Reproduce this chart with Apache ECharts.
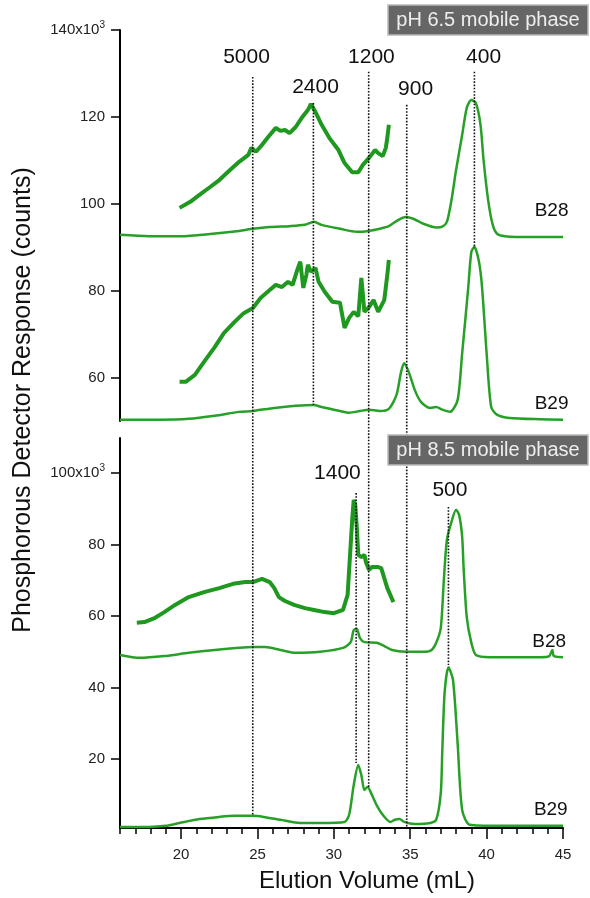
<!DOCTYPE html>
<html><head><meta charset="utf-8">
<script src="https://cdn.jsdelivr.net/npm/echarts@6/dist/echarts.min.js"></script>
<style>html,body{margin:0;padding:0;background:#fff}#c{width:590px;height:898px}</style>
</head><body><div id="c"></div>
<script>
// ---------- data ----------
const xMajorTicks = [20, 25, 30, 35, 40, 45];
const xMinorTicks = [16,17,18,19,20,21,22,23,24,25,26,27,28,29,30,31,32,33,34,35,36,37,38,39,40,41,42,43,44,45];
const topYTicks = [60, 80, 100, 120, 140];
const botYTicks = [20, 40, 60, 80, 100];

// pH 6.5 panel (x: elution volume mL, y: counts x1000)
const ph65_B28 = [[16.0,92.9],[17.9,92.6],[20.0,92.6],[21.9,93.1],[23.8,93.8],[24.7,94.3],[25.8,94.7],[27.1,94.9],[28.1,95.2],[28.7,95.9],[29.2,95.2],[30.4,94.3],[31.5,93.6],[32.3,93.8],[33.0,94.3],[33.6,94.9],[34.2,96.3],[34.7,97.0],[35.2,96.6],[35.9,95.4],[36.7,94.6],[37.1,94.8],[37.4,95.9],[37.7,100.9],[38.0,107.8],[38.4,115.9],[38.7,122.1],[39.0,123.9],[39.3,123.2],[39.6,118.2],[39.8,110.1],[40.1,100.9],[40.4,95.2],[40.7,93.1],[41.2,92.6],[42.8,92.4],[45.0,92.4]];
const ph65_B28_zoom = [[19.9,99.1],[20.6,100.5],[21.2,102.1],[21.9,103.9],[22.5,105.5],[23.2,107.8],[23.8,109.7],[24.4,111.3],[24.6,112.9],[24.9,112.0],[25.3,113.6],[25.7,115.4],[26.2,117.5],[26.5,116.8],[26.8,117.0],[27.1,116.3],[27.5,117.7],[27.9,119.8],[28.3,121.6],[28.5,123.0],[28.8,121.1],[29.2,118.2],[29.7,115.2],[30.3,112.4],[30.7,109.4],[31.2,107.3],[31.6,107.3],[31.9,109.0],[32.3,110.6],[32.7,112.4],[32.9,111.7],[33.2,111.0],[33.4,112.9],[33.5,115.2],[33.6,118.2]];
const ph65_B29 = [[16.0,50.4],[18.6,50.4],[20.5,50.6],[22.2,51.3],[23.8,52.2],[24.7,52.4],[26.1,53.1],[27.5,53.6],[28.7,53.8],[29.2,53.3],[30.4,52.4],[31.0,52.0],[31.7,52.4],[32.3,52.7],[33.0,52.4],[33.6,52.9],[34.1,56.1],[34.4,61.4],[34.6,63.4],[34.9,61.4],[35.3,57.2],[35.7,54.5],[36.3,53.1],[36.7,53.3],[37.1,52.7],[37.6,52.2],[38.1,54.9],[38.4,65.7],[38.8,80.9],[39.0,89.0],[39.2,90.1],[39.5,86.7],[39.7,80.9],[40.0,65.7],[40.3,53.3],[40.7,51.5],[41.5,50.8],[43.5,50.5],[45.0,50.4]];
const ph65_B29_zoom = [[19.9,59.1],[20.3,59.1],[20.9,60.7],[21.5,63.7],[22.2,67.1],[22.8,70.3],[23.5,72.9],[24.1,74.9],[24.7,76.1],[25.2,78.4],[25.8,80.2],[26.2,81.4],[26.6,80.9],[27.0,82.1],[27.3,81.4],[27.6,84.8],[27.8,86.7],[28.0,80.7],[28.2,83.7],[28.3,86.0],[28.5,84.4],[28.8,85.3],[29.0,82.1],[29.4,79.8],[29.9,77.5],[30.4,77.3],[30.7,71.5],[31.0,73.8],[31.3,75.2],[31.6,74.2],[31.8,83.0],[32.0,75.2],[32.3,76.3],[32.6,77.9],[32.9,75.2],[33.3,77.9],[33.5,83.7],[33.6,87.1]];

// pH 8.5 panel
const ph85_B28 = [[16.0,49.1],[17.3,48.3],[18.9,48.8],[20.5,49.7],[22.2,50.5],[23.8,51.1],[24.7,51.3],[25.5,51.3],[26.5,50.5],[27.5,49.7],[29.1,50.0],[30.6,51.1],[31.1,52.7],[31.3,56.1],[31.5,56.4],[31.7,53.9],[32.0,52.7],[32.8,52.5],[33.3,51.6],[33.8,50.5],[34.7,50.0],[35.9,50.0],[36.4,50.5],[36.7,52.5],[37.0,56.7],[37.2,70.1],[37.4,81.3],[37.7,86.3],[38.0,89.7],[38.2,88.3],[38.4,82.1],[38.5,72.9],[38.7,59.7],[39.0,52.5],[39.3,49.1],[40.2,48.5],[43.5,48.5],[44.1,48.8],[44.3,50.5],[44.4,48.8],[45.0,48.5]];
const ph85_B28_zoom = [[17.1,58.1],[17.6,58.3],[18.3,59.5],[18.9,61.1],[19.6,63.1],[20.5,65.3],[21.5,66.7],[22.5,67.8],[23.4,69.0],[24.2,69.5],[24.7,69.5],[25.3,70.4],[25.8,69.5],[26.1,67.8],[26.4,65.3],[26.8,64.2],[27.4,63.1],[28.1,62.2],[28.7,61.7],[29.4,61.1],[30.0,60.8],[30.6,61.7],[30.9,65.9],[31.0,72.9],[31.2,86.9],[31.3,92.5],[31.4,91.1],[31.5,84.9],[31.6,77.1],[31.8,76.5],[32.0,77.1],[32.1,75.1],[32.3,72.9],[32.5,73.7],[32.9,73.7],[33.1,73.4],[33.3,70.6],[33.5,67.8],[33.9,63.9]];
const ph85_B29 = [[16.0,1.0],[17.9,1.0],[19.0,1.3],[19.9,2.1],[21.2,3.2],[22.5,3.8],[23.5,4.1],[24.7,4.1],[25.4,3.8],[26.5,3.0],[27.8,2.1],[29.1,2.1],[30.7,2.4],[31.0,4.4],[31.3,12.7],[31.6,18.3],[31.8,15.5],[32.0,11.3],[32.2,12.2],[32.5,9.9],[32.8,7.1],[33.2,4.4],[33.7,2.4],[34.0,3.0],[34.3,3.2],[34.6,2.4],[35.3,1.8],[36.3,2.1],[36.7,3.0],[37.0,10.5],[37.1,22.5],[37.25,38.5],[37.5,45.7],[37.8,42.1],[38.1,24.5],[38.4,5.7],[38.9,1.6],[40.8,1.3],[45.0,1.3]];

// molecular-weight markers (dotted lines): x position, start (panel,value), end (panel,value)
const markerNames = ['5000', '2400', '1200', '900', '400', '1400', '500'];
const markerX = [24.69, 28.66, 32.28, 34.77, 39.2, 31.46, 37.5];
const markerStartPanel = [0, 0, 0, 0, 0, 1, 1];
const markerStartValue = [129.2, 123.2, 130.4, 122.8, 130.4, 94.4, 90.5];
const markerEndPanel = [1, 0, 1, 1, 0, 1, 1];
const markerEndValue = [4.1, 53.8, 11.9, 1.0, 89.9, 18.9, 46.3];

const sampleNames = ['B28', 'B29', 'B28', 'B29'];
const panelNames = ['pH 6.5 mobile phase', 'pH 8.5 mobile phase'];
</script>
<script>
// ---------- layout / style ----------
const FONT = '"Liberation Sans", Arial, Helvetica, sans-serif';
const GREEN_THICK = '#1f981f';
const GREEN_THIN = '#27a027';
// label anchors in data space: [panel, x, value]
const markerLabelAnchor = [[0,24.28,133.7],[0,28.8,126.9],[0,32.46,133.7],[0,35.35,126.3],[0,39.8,133.7],[1,30.23,99.9],[1,37.6,95.1]];
const sampleLabelAnchor = [[0,44.25,98.4],[0,44.25,54.1],[1,44.1,52.9],[1,44.2,5.7]];

const chart = echarts.init(document.getElementById('c'), null, {renderer: 'canvas'});
const axisBlack = {color: '#000', width: 2};
const tickStyle = {color: '#000', width: 1.5};
function yLabelFmt(top) {
  return function (v) { return v === top ? '{n|' + v + 'x10}{s|3}' : '{n|' + v + '}'; };
}
const yRich = {
  n: {fontSize: 15, fontFamily: FONT, color: '#222'},
  s: {fontSize: 10, fontFamily: FONT, color: '#222', verticalAlign: 'top', padding: [0, 0, 9, 0]}
};
function line(data, xi, yi, thick) {
  return {type: 'line', xAxisIndex: xi, yAxisIndex: yi, data: data, symbol: 'none', smooth: thick ? false : 0.25,
    lineStyle: {color: thick ? GREEN_THICK : GREEN_THIN, width: thick ? 4 : 2.5}, z: 3, silent: true};
}
const option = {
  animation: false,
  backgroundColor: '#fff',
  grid: [
    {left: 120, top: 30, width: 443, height: 391},
    {left: 120, top: 438, width: 443, height: 390}
  ],
  xAxis: [
    {gridIndex: 0, type: 'value', min: 16, max: 45, show: false},
    {gridIndex: 1, type: 'value', position: 'bottom', min: 16, max: 45,
      axisLine: {show: true, onZero: false, lineStyle: axisBlack},
      axisTick: {show: true, customValues: xMajorTicks, length: 11, lineStyle: tickStyle},
      axisLabel: {customValues: xMajorTicks, margin: 19, fontSize: 15, fontFamily: FONT, color: '#222'},
      splitLine: {show: false}},
    {gridIndex: 1, type: 'value', position: 'bottom', min: 16, max: 45,
      axisLine: {show: false, onZero: false},
      axisTick: {show: true, customValues: xMinorTicks, length: 6, lineStyle: tickStyle},
      axisLabel: {show: false}, splitLine: {show: false}}
  ],
  yAxis: [
    {gridIndex: 0, type: 'value', min: 50.1, max: 140,
      axisLine: {show: true, onZero: false, lineStyle: axisBlack},
      axisTick: {show: true, customValues: topYTicks, length: 9, lineStyle: tickStyle},
      axisLabel: {customValues: topYTicks, margin: 15, formatter: yLabelFmt(140), rich: yRich},
      splitLine: {show: false}},
    {gridIndex: 1, type: 'value', min: 0.7, max: 109.8,
      axisLine: {show: true, onZero: false, lineStyle: axisBlack},
      axisTick: {show: true, customValues: botYTicks, length: 9, lineStyle: tickStyle},
      axisLabel: {customValues: botYTicks, margin: 15, formatter: yLabelFmt(100), rich: yRich},
      splitLine: {show: false}}
  ],
  series: [
    line(ph65_B28, 0, 0, false),
    line(ph65_B28_zoom, 0, 0, true),
    line(ph65_B29, 0, 0, false),
    line(ph65_B29_zoom, 0, 0, true),
    line(ph85_B28, 1, 1, false),
    line(ph85_B28_zoom, 1, 1, true),
    line(ph85_B29, 1, 1, false)
  ]
};
chart.setOption(option);

function toPx(panel, x, v) {
  return chart.convertToPixel({xAxisIndex: panel, yAxisIndex: panel}, [x, v]);
}
const g = [];
markerNames.forEach(function (name, i) {
  const p1 = toPx(markerStartPanel[i], markerX[i], markerStartValue[i]);
  const p2 = toPx(markerEndPanel[i], markerX[i], markerEndValue[i]);
  g.push({type: 'line', z: 50, silent: true, shape: {x1: p1[0], y1: p1[1], x2: p2[0], y2: p2[1]},
    style: {stroke: '#111', lineWidth: 1.6, lineDash: [1.6, 1.6]}});
  const a = markerLabelAnchor[i];
  const pl = toPx(a[0], a[1], a[2]);
  g.push({type: 'text', z: 50, x: pl[0], y: pl[1], silent: true,
    style: {text: name, fontSize: 21, fontFamily: FONT, fill: '#111', align: 'center', verticalAlign: 'middle'}});
});
sampleNames.forEach(function (name, i) {
  const a = sampleLabelAnchor[i];
  const p = toPx(a[0], a[1], a[2]);
  g.push({type: 'text', z: 50, x: p[0], y: p[1], silent: true,
    style: {text: name, fontSize: 19, fontFamily: FONT, fill: '#111', align: 'center', verticalAlign: 'middle'}});
});
// panel tags
[[388, 5], [388, 435]].forEach(function (pos, i) {
  g.push({type: 'rect', z: 60, silent: true, shape: {x: pos[0], y: pos[1], width: 200, height: 30},
    style: {fill: '#666666', stroke: '#b8b8b8', lineWidth: 1.5}});
  g.push({type: 'text', z: 61, silent: true, x: pos[0] + 100, y: pos[1] + 15.5,
    style: {text: panelNames[i], fontSize: 20, fontFamily: FONT, fill: '#eeeeee', align: 'center', verticalAlign: 'middle'}});
});
// axis titles
g.push({type: 'text', z: 50, silent: true, x: 367, y: 881,
  style: {text: 'Elution Volume (mL)', fontSize: 24, fontFamily: FONT, fill: '#111', align: 'center', verticalAlign: 'middle'}});
g.push({type: 'text', z: 50, silent: true, x: 23, y: 400, rotation: Math.PI / 2,
  style: {text: 'Phosphorous Detector Response (counts)', fontSize: 25, fontFamily: FONT, fill: '#111', align: 'center', verticalAlign: 'middle'}});
chart.setOption({graphic: g});
</script>
</body></html>
